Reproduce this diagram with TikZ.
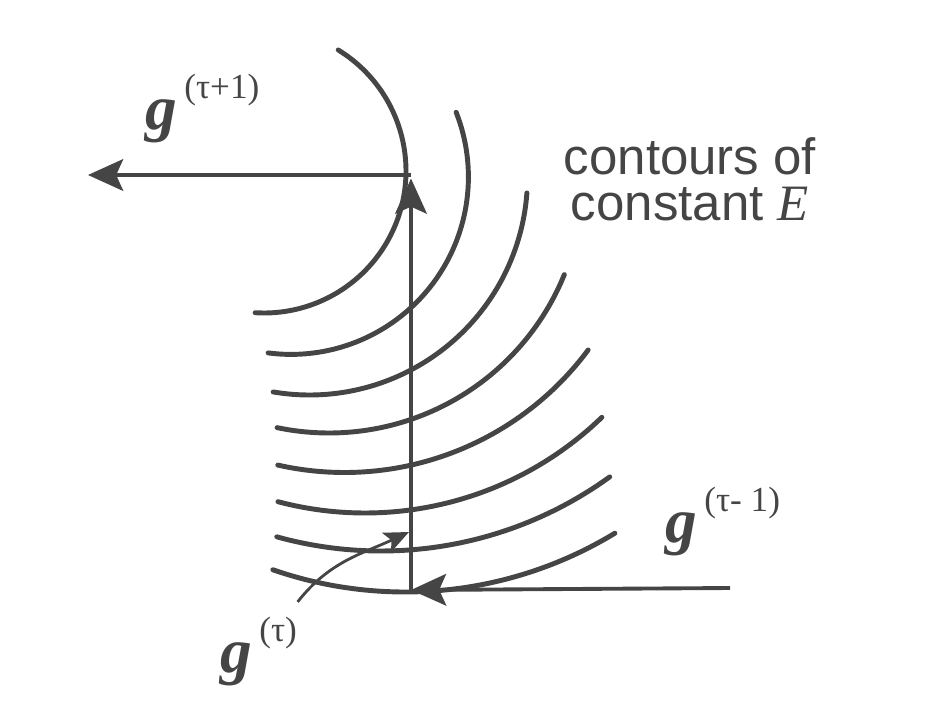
\documentclass[tikz,border=0pt]{standalone}
\usepackage{fontspec}
\setmainfont{Liberation Serif}
\setsansfont{Liberation Sans}
\usetikzlibrary{arrows.meta}
\definecolor{ink}{gray}{0.27}
\newcommand{\gstep}[1]{{\fontsize{18}{18}\selectfont\bfseries\itshape g}\kern2pt\raisebox{8.8pt}{\fontsize{10}{10}\selectfont(#1)}}

\begin{document}
\begin{tikzpicture}[x=0.01cm,y=-0.01cm,
  contour/.style={ink,line width=1.4pt,line cap=round},
  move/.style={ink,line width=1.1pt,-{Stealth[length=10pt,width=9pt,inset=2pt]}},
  pointer/.style={ink,line width=0.8pt,-{Stealth[length=7pt,width=6pt,inset=1.5pt]}},
  glabel/.style={ink,inner xsep=0,inner ysep=4pt,anchor=base west}]
\useasboundingbox (0,0) rectangle (937,721);
% contours of constant E (circle arcs: centre, radius, angles)
\foreach \cx/\cy/\r/\a/\b in {264/171/142/-58.5/93.6, 291/177/177.4/-21.4/97.4,
    309.5/177/218/4.2/99.6, 329/179/254/22.1/101.8, 344.5/169/303.5/36.6/102.7,
    365/172/341/46/104.8, 381/161/390/54.1/105.5, 405/188/404/58.7/109.1}
  \draw[contour] plot[domain=\a:\b,samples=40,smooth] ({\cx+\r*cos(\x)},{\cy+\r*sin(\x)});
% steps
\coordinate (wprev) at (730,588);
\coordinate (wcur) at (411,590);
\coordinate (wnext) at (411,175);
\coordinate (wfar) at (88,175);
\draw[move] (wprev) -- (wcur);
\draw[move] (wcur) -- ([yshift=-1pt]wnext);
\draw[move] (wnext) -- (wfar);
\node[glabel] (gnext) at (145,129) {\gstep{τ+1}};
\node[glabel] (gprev) at (665,542) {\gstep{τ- 1}};
\node[glabel] (gcur) at (220,672) {\gstep{τ}};
\coordinate (tcur) at (409,532);
\draw[pointer] (gcur.north east) to[out=52,in=205] (tcur);
\node[ink,align=center,anchor=base,font=\sffamily\fontsize{14.5}{13}\selectfont] (clabel) at (690,220) {contours of\\constant \textit{\rmfamily E}};
\end{tikzpicture}
\end{document}
